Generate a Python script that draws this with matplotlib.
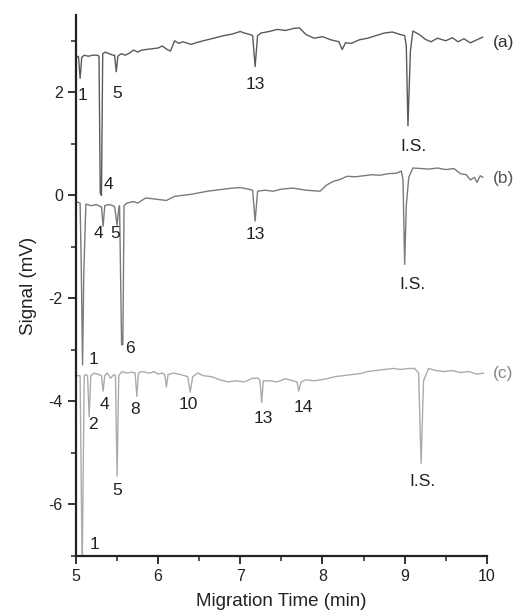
import matplotlib
matplotlib.use("Agg")
import matplotlib.pyplot as plt
from matplotlib.ticker import MultipleLocator

plt.rcParams['font.family'] = ['Liberation Sans', 'DejaVu Sans']
plt.rcParams['axes.unicode_minus'] = False

# electropherogram (a)
xa = [5.00, 5.03, 5.05, 5.07, 5.10, 5.15, 5.20, 5.26, 5.28, 5.295, 5.31, 5.325, 5.36, 5.40, 5.45,
      5.47, 5.49, 5.51, 5.55, 5.60, 5.65, 5.70, 5.75, 5.80, 5.90, 6.00, 6.05, 6.10, 6.15, 6.20,
      6.25, 6.30, 6.40, 6.50, 6.60, 6.70, 6.80, 6.90, 7.00, 7.05, 7.12, 7.15, 7.18, 7.21, 7.25,
      7.35, 7.45, 7.55, 7.65, 7.72, 7.80, 7.90, 8.00, 8.10, 8.20, 8.24, 8.28, 8.35, 8.45, 8.55,
      8.65, 8.75, 8.85, 8.95, 9.00, 9.02, 9.04, 9.07, 9.10, 9.18, 9.25, 9.32, 9.40, 9.50, 9.58,
      9.65, 9.72, 9.80, 9.88, 9.95]
ya = [2.67, 2.70, 2.27, 2.68, 2.72, 2.70, 2.72, 2.72, 2.70, 0.05, 0.00, 2.75, 2.78, 2.75, 2.72,
      2.72, 2.40, 2.70, 2.75, 2.72, 2.76, 2.82, 2.78, 2.82, 2.84, 2.86, 2.90, 2.84, 2.80, 3.00,
      2.95, 2.98, 2.93, 2.98, 3.02, 3.06, 3.10, 3.13, 3.18, 3.15, 3.12, 3.10, 2.50, 3.10, 3.15,
      3.18, 3.22, 3.20, 3.24, 3.25, 3.12, 3.05, 3.08, 3.02, 2.98, 2.83, 2.96, 2.95, 3.02, 3.05,
      3.10, 3.15, 3.17, 3.12, 3.10, 2.90, 1.35, 2.80, 3.19, 3.12, 3.03, 2.98, 3.05, 3.00, 3.06,
      2.98, 3.04, 2.96, 3.02, 3.07]

# electropherogram (b)
xb = [5.00, 5.05, 5.065, 5.08, 5.095, 5.12, 5.18, 5.25, 5.30, 5.31, 5.33, 5.35, 5.40, 5.45, 5.47,
      5.50, 5.52, 5.53, 5.555, 5.57, 5.585, 5.62, 5.70, 5.75, 5.85, 5.90, 6.00, 6.10, 6.20, 6.30,
      6.40, 6.50, 6.60, 6.70, 6.80, 6.90, 7.00, 7.10, 7.15, 7.18, 7.21, 7.30, 7.40, 7.50, 7.64,
      7.80, 7.97, 8.05, 8.13, 8.20, 8.30, 8.40, 8.50, 8.60, 8.70, 8.80, 8.90, 8.96, 8.98, 9.00,
      9.02, 9.05, 9.10, 9.20, 9.30, 9.40, 9.50, 9.60, 9.68, 9.75, 9.80, 9.85, 9.88, 9.92, 9.95]
yb = [-0.12, -0.15, -1.50, -3.29, -1.50, -0.17, -0.20, -0.18, -0.22, -0.22, -0.60, -0.20, -0.18, -0.20, -0.22,
      -0.58, -0.25, -0.20, -2.90, -2.90, -0.20, -0.15, -0.12, -0.15, -0.05, -0.06, -0.08, -0.10, -0.02, 0.00,
      0.02, 0.05, 0.08, 0.10, 0.12, 0.14, 0.15, 0.12, 0.10, -0.50, 0.08, 0.10, 0.08, 0.12, 0.14,
      0.10, 0.08, 0.20, 0.27, 0.30, 0.37, 0.36, 0.38, 0.40, 0.39, 0.42, 0.43, 0.47, 0.30, -1.34,
      -0.20, 0.35, 0.53, 0.52, 0.51, 0.53, 0.50, 0.52, 0.42, 0.40, 0.30, 0.35, 0.25, 0.38, 0.35]

# electropherogram (c)
xc = [5.00, 5.05, 5.075, 5.10, 5.12, 5.14, 5.16, 5.18, 5.22, 5.28, 5.31, 5.33, 5.35, 5.38, 5.42,
      5.46, 5.48, 5.50, 5.52, 5.56, 5.62, 5.68, 5.72, 5.74, 5.76, 5.80, 5.90, 5.95, 6.00, 6.05,
      6.08, 6.10, 6.12, 6.18, 6.25, 6.32, 6.36, 6.39, 6.42, 6.48, 6.55, 6.65, 6.75, 6.85, 6.95,
      7.05, 7.15, 7.22, 7.24, 7.26, 7.28, 7.36, 7.45, 7.55, 7.64, 7.69, 7.71, 7.74, 7.80, 7.90,
      8.05, 8.15, 8.25, 8.35, 8.46, 8.55, 8.65, 8.75, 8.87, 8.95, 9.05, 9.12, 9.17, 9.20, 9.23,
      9.29, 9.38, 9.48, 9.58, 9.68, 9.78, 9.88, 9.96]
yc = [-3.50, -3.50, -7.30, -3.50, -3.48, -3.50, -4.30, -3.50, -3.45, -3.48, -3.50, -3.80, -3.50, -3.45, -3.55,
      -3.48, -3.50, -5.45, -3.50, -3.42, -3.45, -3.43, -3.45, -3.90, -3.45, -3.42, -3.45, -3.42, -3.47, -3.45,
      -3.48, -3.72, -3.48, -3.45, -3.47, -3.50, -3.52, -3.82, -3.52, -3.45, -3.50, -3.52, -3.58, -3.62, -3.60,
      -3.62, -3.55, -3.55, -3.60, -4.02, -3.60, -3.60, -3.62, -3.56, -3.60, -3.62, -3.80, -3.62, -3.58, -3.60,
      -3.56, -3.52, -3.50, -3.48, -3.46, -3.42, -3.40, -3.38, -3.36, -3.38, -3.36, -3.36, -3.45, -5.20, -3.60,
      -3.36, -3.40, -3.42, -3.40, -3.44, -3.42, -3.47, -3.45]

# peak labels: (text, x, y)
labels_a = [("1", 5.085, 1.93), ("5", 5.50, 1.98), ("4", 5.39, 0.21), ("13", 7.18, 2.16), ("I.S.", 9.11, 0.95)]
labels_b = [("4", 5.27, -0.74), ("5", 5.48, -0.74), ("1", 5.21, -3.19), ("6", 5.66, -2.98),
            ("13", 7.18, -0.76), ("I.S.", 9.10, -1.73)]
labels_c = [("2", 5.21, -4.44), ("4", 5.34, -4.05), ("8", 5.72, -4.16), ("10", 6.37, -4.05),
            ("13", 7.28, -4.34), ("14", 7.77, -4.12), ("5", 5.50, -5.72), ("I.S.", 9.22, -5.56),
            ("1", 5.22, -6.77)]

fig = plt.figure(figsize=(5.22, 6.13), dpi=100)
ax = fig.add_axes([0.1456, 0.093, 0.787, 0.8825])

ax.plot(xa, ya, color='#5a5a5a', lw=1.0)
ax.plot(xb, yb, color='#7a7a7a', lw=1.0)
ax.plot(xc, yc, color='#ababab', lw=1.0)

for labs in (labels_a, labels_b, labels_c):
    for t, x, y in labs:
        ax.text(x, y, t, ha='center', va='center', fontsize=12.5, color='#222222')

ax.text(10.07, 2.96, "(a)", ha='left', va='center', fontsize=12.5, color='#333333', clip_on=False)
ax.text(10.07, 0.33, "(b)", ha='left', va='center', fontsize=12.5, color='#555555', clip_on=False)
ax.text(10.07, -3.46, "(c)", ha='left', va='center', fontsize=12.5, color='#888888', clip_on=False)

ax.set_xlim(5, 10)
ax.set_ylim(-7, 3.5)
ax.xaxis.set_major_locator(MultipleLocator(1))
ax.xaxis.set_minor_locator(MultipleLocator(0.5))
ax.yaxis.set_major_locator(MultipleLocator(2))
ax.yaxis.set_minor_locator(MultipleLocator(1))
ax.spines['top'].set_visible(False)
ax.spines['right'].set_visible(False)
for s in ('left', 'bottom'):
    ax.spines[s].set_linewidth(1.6)
    ax.spines[s].set_color('#222222')
ax.tick_params(which='major', length=6, width=1.3, labelsize=11.5, colors='#222222')
ax.tick_params(which='minor', length=3.5, width=1.1, colors='#222222')
ax.set_xlabel("Migration Time (min)", fontsize=13.5, color='#222222', labelpad=6)
ax.set_ylabel("Signal (mV)", fontsize=13.5, color='#222222', labelpad=8)

fig.savefig("out.png", dpi=100)
